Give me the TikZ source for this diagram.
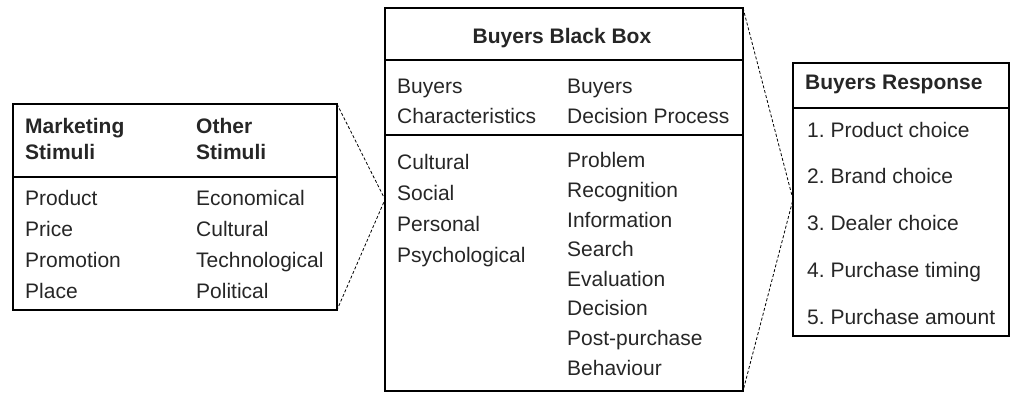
\documentclass[tikz,border=0pt]{standalone}
\usepackage{fontspec}
\setmainfont{Liberation Sans}
\usetikzlibrary{positioning}
\frenchspacing

\begin{document}
\begin{tikzpicture}[
  x=1pt, y=-1pt,
  panel/.style={draw, line width=1.3pt, anchor=north west, inner sep=0pt,
    outer sep=0pt},
  txt/.style={font=\fontsize{21}{#1}\selectfont, align=left, inner sep=0pt,
    anchor=base west, text=black!85},
  head/.style={txt=#1, font=\fontsize{21}{#1}\selectfont\bfseries},
  rule/.style={line width=1.6pt},
  link/.style={densely dashed, line width=0.8pt}
]
\useasboundingbox (0,0) rectangle (1012,394);

% the three panels
\node[panel, minimum width=324pt, minimum height=206pt] (stimuli) at (13,104) {};
\node[panel, minimum width=358pt, minimum height=383pt] (blackbox) at (385,8) {};
\node[panel, minimum width=216pt, minimum height=273pt] (response) at (793,63) {};

\draw[rule] (stimuli.west |- 0,177) -- (stimuli.east |- 0,177);
\draw[rule] (blackbox.west |- 0,60) -- (blackbox.east |- 0,60);
\draw[rule] (blackbox.west |- 0,135) -- (blackbox.east |- 0,135);
\draw[rule] (response.west |- 0,108) -- (response.east |- 0,108);

% stimuli (placed at the baseline of the last line)
\node[head=26] (mkthead) at (25,159) {Marketing\\Stimuli};
\node[head=26] (othhead) at (196,159) {Other\\Stimuli};
\node[txt=30.7] (mktlist) at (25,298) {Product\\Price\\Promotion\\Place};
\node[txt=30.7] (othlist) at (196,298) {Economical\\Cultural\\Technological\\Political};

% black box
\node[head=30, anchor=base] (bbtitle) at (562,43) {Buyers Black Box};
\node[txt=30] (charhead) at (397,123) {Buyers\\Characteristics};
\node[txt=30] (prochead) at (567,123) {Buyers\\Decision Process};
\node[txt=31] (charlist) at (397,262) {Cultural\\Social\\Personal\\Psychological};
\node[txt=29.6] (proclist) at (567,375) {Problem\\Recognition\\Information\\Search\\Evaluation\\Decision\\Post-purchase\\Behaviour};

% response
\node[head=30] (resptitle) at (805,89) {Buyers Response};
\node[txt=46.75] (resplist) at (807,324) {1. Product choice\\2. Brand choice\\3. Dealer choice\\4. Purchase timing\\5. Purchase amount};

\draw[link] (stimuli.north east) -- (blackbox.west) -- (stimuli.south east);
\draw[link] (blackbox.north east) -- (response.west) -- (blackbox.south east);
\end{tikzpicture}
\end{document}
